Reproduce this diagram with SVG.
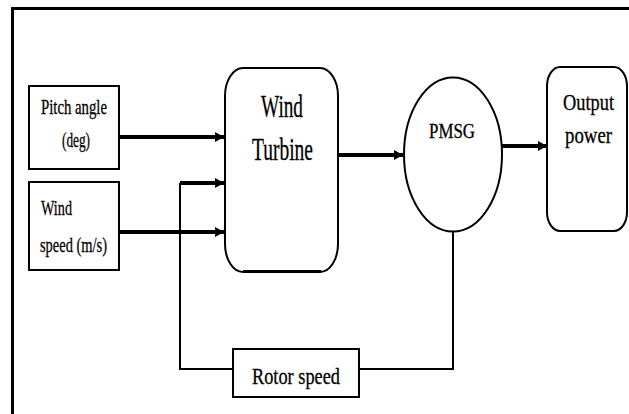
<svg xmlns="http://www.w3.org/2000/svg" width="629" height="414" viewBox="0 0 629 414">
<style>
.box{fill:#fff;stroke:#000;stroke-width:2}
.t{font-family:'Liberation Serif','DejaVu Serif','Times New Roman',serif;fill:#000;stroke:#000;stroke-width:0.3}
.thick{fill:none;stroke:#000;stroke-width:4}
.thin{fill:none;stroke:#000;stroke-width:2}
</style>
<defs>
<marker id="ah" markerUnits="userSpaceOnUse" markerWidth="10" markerHeight="12" refX="9" refY="6" orient="auto">
<path d="M0,1 L9,6 L0,11 Z" fill="#000"/>
</marker>
</defs>
<rect x="0" y="0" width="629" height="414" fill="#fff"/>
<path d="M12.5,414 V8.5 H629" fill="none" stroke="#000" stroke-width="3"/>

<g id="connectors">
<line class="thick" x1="119" y1="137" x2="224" y2="137" marker-end="url(#ah)"/>
<line class="thick" x1="119" y1="232" x2="224" y2="232" marker-end="url(#ah)"/>
<line class="thick" x1="180" y1="183" x2="224" y2="183" marker-end="url(#ah)"/>
<polyline class="thin" points="180,183 180,369 233,369"/>
<polyline class="thin" points="359,369 453,369 453,231"/>
<line class="thick" x1="338" y1="155" x2="403" y2="155" marker-end="url(#ah)"/>
<line class="thick" x1="502" y1="146" x2="547" y2="146" marker-end="url(#ah)"/>
</g>

<g id="pitch">
<rect class="box" x="29" y="86" width="90" height="83"/>
<text class="t" x="41" y="114" font-family="Liberation Serif, serif" font-size="22" textLength="66" lengthAdjust="spacingAndGlyphs">Pitch angle</text>
<text class="t" x="62" y="147" font-family="Liberation Serif, serif" font-size="22" textLength="28" lengthAdjust="spacingAndGlyphs">(deg)</text>
</g>

<g id="windspeed">
<rect class="box" x="29" y="182" width="90" height="88"/>
<text class="t" x="41" y="215" font-family="Liberation Serif, serif" font-size="22" textLength="31" lengthAdjust="spacingAndGlyphs">Wind</text>
<text class="t" x="40" y="252" font-family="Liberation Serif, serif" font-size="22" textLength="67" lengthAdjust="spacingAndGlyphs">speed (m/s)</text>
</g>

<g id="turbine">
<rect class="box" x="225" y="68" width="113" height="204" rx="18" ry="28"/>
<line x1="243" y1="271.5" x2="321" y2="271.5" stroke="#000" stroke-width="3"/>
<text class="t" x="261" y="117" font-family="Liberation Serif, serif" font-size="32" textLength="42" lengthAdjust="spacingAndGlyphs">Wind</text>
<text class="t" x="252" y="160" font-family="Liberation Serif, serif" font-size="32" textLength="61" lengthAdjust="spacingAndGlyphs">Turbine</text>
</g>

<g id="pmsg">
<ellipse class="box" cx="453" cy="154.5" rx="49" ry="77"/>
<text class="t" x="429" y="138" font-family="Liberation Serif, serif" font-size="20" textLength="46" lengthAdjust="spacingAndGlyphs">PMSG</text>
</g>

<g id="output">
<rect class="box" x="547" y="67" width="80" height="164" rx="13" ry="19"/>
<text class="t" x="563" y="110" font-family="Liberation Serif, serif" font-size="24" textLength="51" lengthAdjust="spacingAndGlyphs">Output</text>
<text class="t" x="565" y="143" font-family="Liberation Serif, serif" font-size="24" textLength="47" lengthAdjust="spacingAndGlyphs">power</text>
</g>

<g id="rotor">
<rect class="box" x="233" y="349" width="126" height="48"/>
<text class="t" x="252" y="384" font-family="Liberation Serif, serif" font-size="24" textLength="88" lengthAdjust="spacingAndGlyphs">Rotor speed</text>
</g>
</svg>
